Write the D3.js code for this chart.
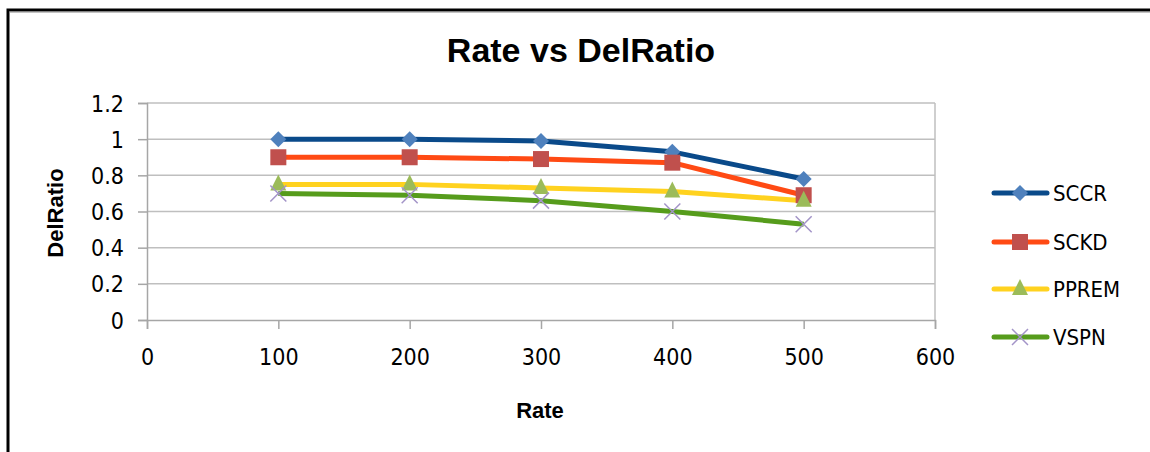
<!DOCTYPE html>
<html>
<head>
<meta charset="utf-8">
<script src="https://cdn.jsdelivr.net/npm/d3@7/dist/d3.min.js"></script>
<style>
  html, body { margin: 0; padding: 0; background: #fff; }
  svg { display: block; }
</style>
</head>
<body>
<svg id="chart" width="1150" height="452"></svg>
<script>
const rates = [100, 200, 300, 400, 500];
const sccr  = [1.00, 1.00, 0.99, 0.93, 0.78];
const sckd  = [0.90, 0.90, 0.89, 0.87, 0.69];
const pprem = [0.75, 0.75, 0.73, 0.71, 0.66];
const vspn  = [0.70, 0.69, 0.66, 0.60, 0.53];
const seriesNames = ["SCCR", "SCKD", "PPREM", "VSPN"];
const xTicks = [0, 100, 200, 300, 400, 500, 600];
const yTicks = [0, 0.2, 0.4, 0.6, 0.8, 1, 1.2];

const series = [
  { name: seriesNames[0], values: sccr,  line: "#0a4a8a", marker: "#4f81bd", shape: "diamond" },
  { name: seriesNames[1], values: sckd,  line: "#ff4a14", marker: "#c0504d", shape: "square" },
  { name: seriesNames[2], values: pprem, line: "#ffd21f", marker: "#9bbb59", shape: "triangle" },
  { name: seriesNames[3], values: vspn,  line: "#569c1c", marker: "#a394c8", shape: "cross" }
];

const svg = d3.select("#chart");
const font = "'Liberation Sans', Arial, sans-serif";
const narrow = "'Liberation Sans Narrow', 'DejaVu Sans Condensed', 'Liberation Sans', sans-serif";

// outer frame (only left and top visible)
svg.append("path").attr("d", "M8,460 L8,10 L1160,10")
  .attr("fill", "none").attr("stroke", "#000").attr("stroke-width", 3);
svg.append("line").attr("x1", 9).attr("x2", 1160).attr("y1", 12).attr("y2", 12)
  .attr("stroke", "#888").attr("stroke-width", 1);

const x = d3.scaleLinear().domain([0, 600]).range([147, 935]);
const y = d3.scaleLinear().domain([0, 1.2]).range([320, 103]);

// gridlines
svg.append("g").selectAll("line").data(yTicks.filter(d => d > 0)).join("line")
  .attr("x1", x(0)).attr("x2", x(600))
  .attr("y1", d => y(d)).attr("y2", d => y(d))
  .attr("stroke", "#bfbfbf").attr("stroke-width", 1.5);
// right plot border
svg.append("line").attr("x1", x(600)).attr("x2", x(600)).attr("y1", y(1.2)).attr("y2", y(0))
  .attr("stroke", "#bfbfbf").attr("stroke-width", 1.5);

// axes
const yAxis = d3.axisLeft(y).tickValues(yTicks).tickSize(9).tickPadding(14)
  .tickFormat(d => d3.format("")(+d.toFixed(1)));
const gy = svg.append("g").attr("transform", `translate(${x(0)},0)`).call(yAxis);
const xAxis = d3.axisBottom(x).tickValues(xTicks).tickSize(9).tickPadding(20);
const gx = svg.append("g").attr("transform", `translate(0,${y(0)})`).call(xAxis);
[gx, gy].forEach(g => {
  g.select(".domain").attr("stroke", "#a6a6a6").attr("stroke-width", 1.5);
  g.selectAll(".tick line").attr("stroke", "#a6a6a6").attr("stroke-width", 1.5);
  g.selectAll(".tick text").attr("fill", "#000").style("font-family", narrow).style("font-size", "23px");
});
gy.selectAll(".tick text").attr("dy", "0.35em");

// lines
const lineGen = d3.line().x((d, i) => x(rates[i])).y(d => y(d));
series.forEach(s => {
  svg.append("path").datum(s.values)
    .attr("d", lineGen)
    .attr("fill", "none").attr("stroke", s.line).attr("stroke-width", 5)
    .attr("stroke-linejoin", "round");
});

function drawMarker(g, s, cx, cy) {
  if (s.shape === "diamond") {
    g.append("path").attr("d", `M${cx},${cy-8} L${cx+8},${cy} L${cx},${cy+8} L${cx-8},${cy} Z`)
      .attr("fill", s.marker);
  } else if (s.shape === "square") {
    g.append("rect").attr("x", cx - 8).attr("y", cy - 8).attr("width", 16).attr("height", 16)
      .attr("fill", s.marker);
  } else if (s.shape === "triangle") {
    g.append("path").attr("d", `M${cx},${cy-10} L${cx+8},${cy+6} L${cx-8},${cy+6} Z`)
      .attr("fill", s.marker);
  } else {
    g.append("path").attr("d", `M${cx-8},${cy-8} L${cx+8},${cy+8} M${cx+8},${cy-8} L${cx-8},${cy+8}`)
      .attr("stroke", s.marker).attr("stroke-width", 1.5).attr("fill", "none");
  }
}

series.forEach(s => {
  const g = svg.append("g");
  s.values.forEach((v, i) => drawMarker(g, s, x(rates[i]), y(v)));
});

// title
svg.append("text").attr("x", 581).attr("y", 62).attr("text-anchor", "middle")
  .style("font-family", font).style("font-weight", "bold").style("font-size", "34px")
  .text("Rate vs DelRatio");

// axis titles
svg.append("text").attr("x", 540).attr("y", 418).attr("text-anchor", "middle")
  .style("font-family", font).style("font-weight", "bold").style("font-size", "22px")
  .text("Rate");
svg.append("text").attr("transform", "translate(63,213) rotate(-90)").attr("text-anchor", "middle")
  .style("font-family", font).style("font-weight", "bold").style("font-size", "22px")
  .text("DelRatio");

// legend
const legendY = [193, 242, 289, 337];
series.forEach((s, i) => {
  const g = svg.append("g");
  const ly = legendY[i];
  g.append("line").attr("x1", 994).attr("x2", 1047).attr("y1", ly).attr("y2", ly)
    .attr("stroke", s.line).attr("stroke-width", 5).attr("stroke-linecap", "round");
  drawMarker(g, s, 1020, ly);
  g.append("text").attr("x", 1053).attr("y", ly).attr("dy", "0.35em")
    .style("font-family", narrow).style("font-size", "22px").text(s.name);
});
</script>
</body>
</html>
